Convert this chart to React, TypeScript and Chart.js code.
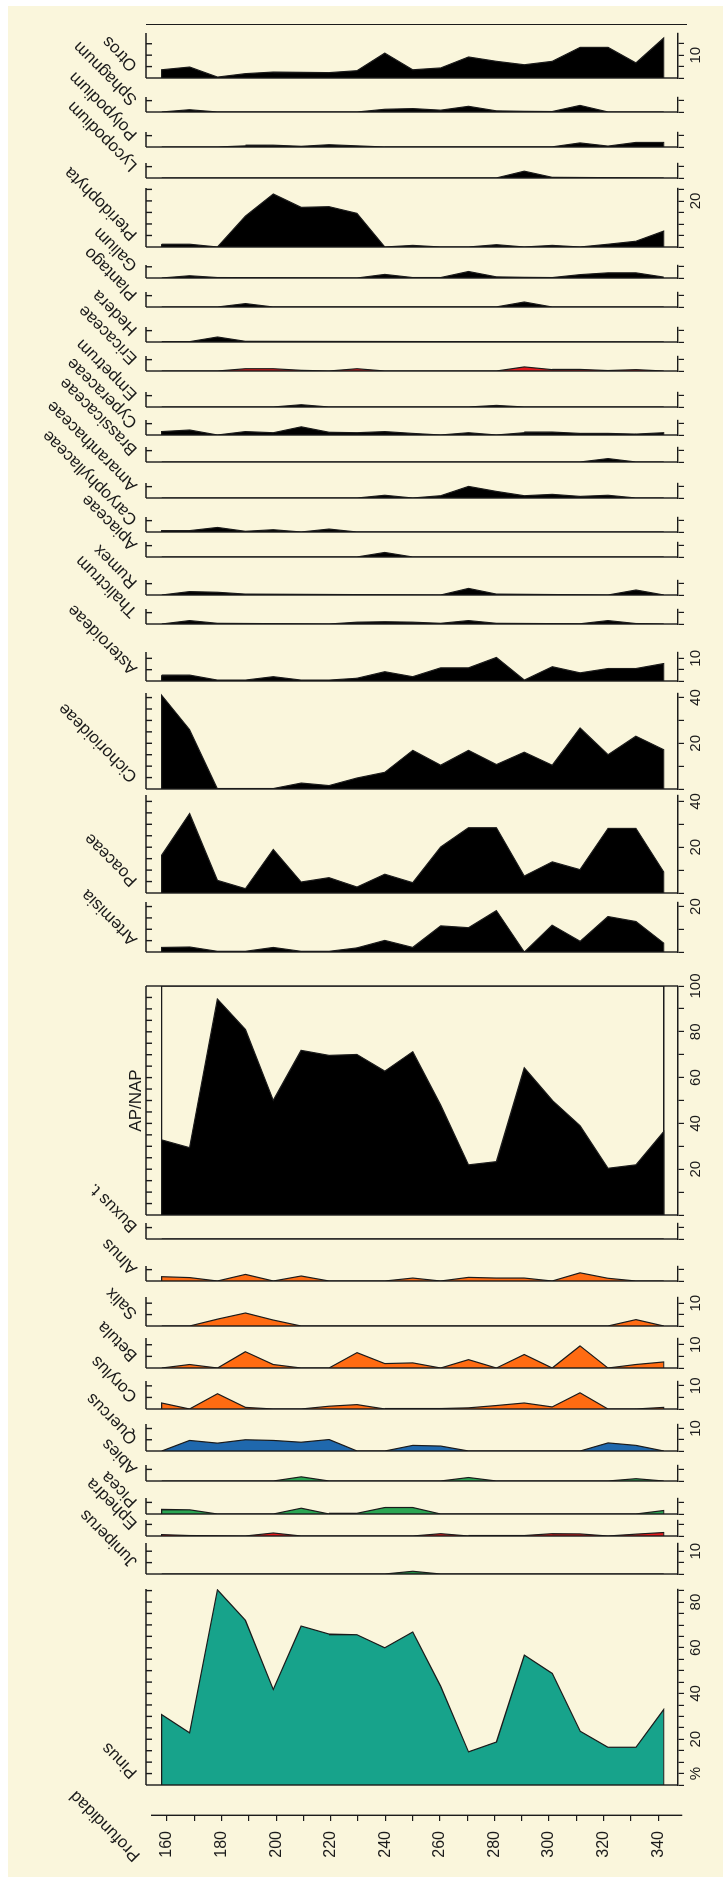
import React, { useEffect, useRef } from "react";
import { Chart, registerables } from "chart.js";

Chart.register(...registerables);

// ---------------- data (percent values per depth) ----------------
const DEPTHS = [160, 170, 180, 190, 200, 210, 220, 230, 240, 250, 260, 270, 280, 290, 300, 310, 320, 330, 340];
const DEPTH_TICKS = [160, 170, 180, 190, 200, 210, 220, 230, 240, 250, 260, 270, 280, 290, 300, 310, 320, 330, 340];
const DEPTH_LABELS = [160, 180, 200, 220, 240, 260, 280, 300, 320, 340];

const PINUS = [30.8, 22.8, 85.3, 72, 41.8, 69.5, 66, 65.7, 60, 66.9, 43.2, 14.5, 18.8, 56.8, 48.8, 23.5, 16.5, 16.5, 33];
const JUNIPERUS = [0, 0, 0, 0, 0, 0, 0, 0, 0, 1.2, 0, 0, 0, 0, 0, 0, 0, 0, 0];
const EPHEDRA = [0.6, 0.2, 0, 0, 1.3, 0, 0, 0, 0, 0, 1.0, 0, 0, 0.4, 1.0, 0.9, 0, 0.8, 1.5];
const PICEA = [2.0, 1.8, 0, 0, 0, 2.5, 0, 0.3, 2.8, 2.8, 0, 0, 0, 0, 0, 0, 0, 0, 1.5];
const ABIES = [0, 0, 0, 0, 0, 1.8, 0, 0, 0, 0, 0, 1.5, 0, 0, 0, 0, 0, 1.0, 0];
const QUERCUS = [0, 4.7, 3.5, 5, 4.7, 3.9, 5.1, 0, 0, 2.5, 2.2, 0, 0, 0, 0, 0, 3.6, 2.5, 0];
const CORYLUS = [2.6, 0, 6.6, 0.7, 0, 0, 1.2, 1.9, 0, 0.2, 0.2, 0.5, 1.5, 2.6, 0.9, 7.0, 0, 0, 0.7];
const BETULA = [0.3, 1.5, 0, 7.0, 1.5, 0, 0, 6.6, 1.9, 2.2, 0, 3.6, 0, 5.8, 0, 9.5, 0, 1.5, 2.6];
const SALIX = [0, 0, 3.0, 5.7, 2.6, 0, 0, 0, 0, 0, 0, 0, 0, 0, 0, 0, 0, 2.8, 0];
const ALNUS = [1.9, 1.5, 0, 2.9, 0, 2.2, 0, 0, 0, 1.3, 0, 1.6, 1.3, 1.3, 0, 3.6, 1.2, 0, 0];
const BUXUS = [0, 0, 0, 0, 0, 0, 0.4, 0, 0, 0, 0, 0, 0, 0, 0, 0, 0, 0, 0];
const AP_NAP = [32.8, 29.4, 94.3, 81, 50.1, 71.9, 69.7, 70.1, 62.8, 71.3, 48, 21.9, 23.3, 64.3, 50.1, 39, 20.4, 21.9, 36.4];
const ARTEMISIA = [2.0, 2.2, 0.3, 0.3, 2.0, 0.3, 0.3, 1.8, 5.1, 2.0, 11.5, 10.7, 18.2, 0, 11.8, 4.7, 15.6, 13.4, 3.9];
const POACEAE = [16.5, 34.7, 5.5, 1.9, 19, 4.8, 6.7, 2.6, 8.2, 4.5, 20.1, 28.5, 28.5, 7.4, 13.6, 10.2, 28.2, 28.2, 9.2];
const CICHORIOIDEAE = [41, 26, 0, 0, 0.4, 2.6, 1.5, 4.8, 7.3, 16.9, 10.4, 16.9, 10.7, 16.1, 10.4, 26.7, 15, 23.1, 17.2];
const ASTEROIDEAE = [2.3, 2.6, 0.4, 0.4, 1.9, 0.4, 0.4, 1.2, 4.1, 1.9, 5.8, 5.8, 10.4, 0.4, 6.3, 3.6, 5.5, 5.5, 7.7];
const THALICTRUM = [0.2, 1.5, 0.3, 0, 0, 0, 0, 0.8, 1.0, 0.8, 0.3, 1.5, 0.3, 0, 0, 0.3, 1.5, 0.2, 0];
const RUMEX = [0.3, 1.5, 1.2, 0.4, 0, 0, 0, 0, 0, 0, 0, 2.9, 0.4, 0, 0, 0, 0, 2.2, 0];
const APIACEAE = [0, 0, 0, 0, 0, 0, 0, 0, 2.0, 0, 0, 0, 0, 0, 0, 0, 0, 0, 0];
const CARYOPHYLLACEAE = [0.6, 0.6, 2.0, 0.3, 1.0, 0, 1.3, 0, 0, 0, 0, 0.2, 0, 0, 0, 0, 0, 0, 0];
const AMARANTHACEAE = [0, 0, 0, 0, 0, 0, 0, 0, 1.2, 0, 1.0, 5.1, 2.9, 1.0, 1.6, 0.7, 1.2, 0, 0];
const BRASSICACEAE = [0, 0, 0, 0, 0, 0, 0, 0, 0, 0, 0, 0, 0, 0, 0, 0, 1.5, 0, 0];
const CYPERACEAE = [1.5, 2.2, 0, 1.5, 1.0, 3.6, 1.2, 1.0, 1.5, 0.7, 0, 1.0, 0, 1.0, 1.3, 0.7, 0.7, 0.4, 1.0];
const EMPETRUM = [0, 0, 0, 0, 0, 1.0, 0, 0, 0, 0, 0, 0, 0.7, 0, 0, 0, 0, 0, 0];
const ERICACEAE = [0, 0, 0, 1.0, 1.0, 0.3, 0, 1.0, 0, 0, 0, 0, 0, 1.8, 0.6, 0.7, 0.2, 0.6, 0];
const HEDERA = [0, 0.3, 2.2, 0.3, 0, 0, 0, 0, 0, 0, 0, 0, 0.3, 0, 0, 0, 0.2, 0, 0];
const PLANTAGO = [0, 0, 0, 1.5, 0, 0, 0, 0, 0, 0, 0, 0, 0.3, 2.2, 0, 0, 0, 0, 0];
const GALIUM = [0.3, 1.0, 0.2, 0, 0, 0, 0, 0, 1.6, 0.2, 0.2, 2.9, 0.5, 0.3, 0.2, 1.5, 2.3, 2.3, 0.4];
const PTERIDOPHYTA = [1.0, 1.2, 0, 13.4, 23, 17.2, 17.5, 14.6, 0, 0.7, 0, 0, 1.0, 0, 0.7, 0, 1.2, 2.5, 6.9];
const LYCOPODIUM = [0, 0, 0, 0, 0, 0, 0, 0, 0, 0, 0, 0, 0.3, 3.0, 0.3, 0, 0, 0, 0];
const POLYPODIUM = [0, 0, 0, 0.5, 0.8, 0.3, 1.0, 0.5, 0, 0, 0, 0, 0, 0, 0.3, 1.8, 0.4, 2.0, 2.0];
const SPHAGNUM = [0, 1.0, 0, 0, 0, 0, 0, 0, 1.2, 1.5, 0.8, 2.5, 0.5, 0.3, 0.2, 2.9, 0, 0, 0];
const OTROS = [3.6, 4.8, 0.4, 1.9, 2.6, 2.2, 2.5, 3.2, 10.9, 3.6, 4.4, 9.2, 7.3, 5.8, 7.3, 13.4, 13.4, 6.6, 17.5];

// ---------------- styles ----------------
const FONT = "'Liberation Sans', Arial, Helvetica, sans-serif";
const INK = "#1b1b1b";
const BG = "#faf6dc";
const TEAL = "#17a38b";
const GREEN_D = "#1f8f45";
const GREEN = "#2aa653";
const RED = "#e3191c";
const BLUE = "#1f68ad";
const ORANGE = "#ff6b12";
const BLACK = "#000000";

// ---------------- layout (drawn in the unrotated orientation, then turned) ----------------
const W = 1877;
const H = 723;
const AXIS_TOP = 145.7;
const D_MIN = 154.37;
const D_MAX = 345.1;
const D_AXIS_END = 348.5;
const PX_PER_DEPTH = 2.788;
const PX_PER_PCT = 2.29;
const LABEL_Y = 138;

type Panel = {
  name: string;
  values: number[];
  left: number;
  max: number;
  color: string;
  step?: number;
  labels?: Record<number, string>;
  frame?: boolean;
  title?: boolean;
};

const L10 = { 10: "10" };
const PANELS: Panel[] = [
  { name: "Pinus", values: PINUS, left: 91.7, max: 85.7, color: TEAL, step: 5, labels: { 5: "%", 20: "20", 40: "40", 60: "60", 80: "80" } },
  { name: "Juniperus", values: JUNIPERUS, left: 302.7, max: 13.6, color: GREEN_D, labels: L10 },
  { name: "Ephedra", values: EPHEDRA, left: 341.3, max: 6.9, color: RED },
  { name: "Picea", values: PICEA, left: 363, max: 6.9, color: GREEN },
  { name: "Abies", values: ABIES, left: 396.3, max: 6.9, color: GREEN },
  { name: "Quercus", values: QUERCUS, left: 426.3, max: 12, color: BLUE, labels: L10 },
  { name: "Corylus", values: CORYLUS, left: 467.7, max: 12.1, color: ORANGE, labels: L10 },
  { name: "Betula", values: BETULA, left: 508.7, max: 12.9, color: ORANGE, labels: L10 },
  { name: "Salix", values: SALIX, left: 551.3, max: 12.7, color: ORANGE, labels: L10 },
  { name: "Alnus", values: ALNUS, left: 596, max: 6.6, color: ORANGE },
  { name: "Buxus t.", values: BUXUS, left: 637.7, max: 7, color: ORANGE },
  { name: "AP/NAP", values: AP_NAP, left: 662, max: 100, color: BLACK, step: 10, labels: { 20: "20", 40: "40", 60: "60", 80: "80", 100: "100" }, frame: true, title: true },
  { name: "Artemisia", values: ARTEMISIA, left: 924.7, max: 22, color: BLACK, step: 10, labels: { 20: "20" } },
  { name: "Poaceae", values: POACEAE, left: 984.3, max: 42.8, color: BLACK, step: 10, labels: { 20: "20", 40: "40" } },
  { name: "Cichorioideae", values: CICHORIOIDEAE, left: 1087.7, max: 42, color: BLACK, step: 10, labels: { 20: "20", 40: "40" } },
  { name: "Asteroideae", values: ASTEROIDEAE, left: 1196, max: 12.8, color: BLACK, labels: L10 },
  { name: "Thalictrum", values: THALICTRUM, left: 1253, max: 6.6, color: BLACK },
  { name: "Rumex", values: RUMEX, left: 1282, max: 6.6, color: BLACK },
  { name: "Apiaceae", values: APIACEAE, left: 1319.7, max: 6.6, color: BLACK },
  { name: "Caryophyllaceae", values: CARYOPHYLLACEAE, left: 1344.7, max: 6.6, color: BLACK },
  { name: "Amaranthaceae", values: AMARANTHACEAE, left: 1378.7, max: 6.6, color: BLACK },
  { name: "Brassicaceae", values: BRASSICACEAE, left: 1415.3, max: 6.6, color: BLACK },
  { name: "Cyperaceae", values: CYPERACEAE, left: 1442, max: 6.6, color: BLACK },
  { name: "Empetrum", values: EMPETRUM, left: 1470.3, max: 6.6, color: BLACK },
  { name: "Ericaceae", values: ERICACEAE, left: 1506, max: 6.6, color: RED },
  { name: "Hedera", values: HEDERA, left: 1534.7, max: 6.6, color: BLACK },
  { name: "Plantago", values: PLANTAGO, left: 1570.3, max: 6.6, color: BLACK },
  { name: "Galium", values: GALIUM, left: 1599.3, max: 5.8, color: BLACK },
  { name: "Pteridophyta", values: PTERIDOPHYTA, left: 1630.3, max: 25.6, color: BLACK, labels: { 20: "20" } },
  { name: "Lycopodium", values: LYCOPODIUM, left: 1699.3, max: 6.6, color: BLACK },
  { name: "Polypodium", values: POLYPODIUM, left: 1730.3, max: 6.6, color: BLACK },
  { name: "Sphagnum", values: SPHAGNUM, left: 1765.3, max: 6.6, color: BLACK },
  { name: "Otros", values: OTROS, left: 1798.7, max: 19.7, color: BLACK, labels: L10 },
];

function stepsUpTo(max: number, step: number) {
  const out: number[] = [];
  for (let v = 0; v <= max + 1e-6; v += step) out.push(v);
  return out;
}

function framePlugin(p: Panel) {
  return {
    id: "frame",
    afterDatasetsDraw(chart: any) {
      const { ctx, chartArea: a, scales } = chart;
      const x = scales.x;
      const x0 = x.getPixelForValue(0);
      const x1 = x.getPixelForValue(p.max);
      ctx.save();
      ctx.strokeStyle = INK;
      ctx.lineWidth = 1.4;
      ctx.beginPath();
      ctx.moveTo(x0, a.top);
      ctx.lineTo(x0, a.bottom);
      ctx.moveTo(x0, a.top);
      ctx.lineTo(x1, a.top);
      for (let v = 5; v <= p.max + 1e-6; v += 5) {
        const px = x.getPixelForValue(v);
        ctx.moveTo(px, a.top);
        ctx.lineTo(px, a.top + 6);
      }
      if (p.frame) {
        ctx.moveTo(x1, a.top);
        ctx.lineTo(x1, a.bottom);
      }
      ctx.stroke();
      ctx.restore();
    },
  };
}

const PADL = 24;
const PADR = 24;
const PADT = 12;
const AXH = 36;

function PanelChart({ p }: { p: Panel }) {
  const ref = useRef<HTMLCanvasElement | null>(null);
  const areaW = p.max * PX_PER_PCT;
  const areaH = (D_MAX - D_MIN) * PX_PER_DEPTH;
  const cw = Math.round(areaW + PADL + PADR);
  const ch = Math.round(areaH + PADT + AXH);
  useEffect(() => {
    if (!ref.current) return;
    const last = DEPTHS.length - 1;
    const data = [
      { x: 0, y: DEPTHS[0] },
      ...DEPTHS.map((d, i) => ({ x: p.values[i], y: d })),
      { x: 0, y: DEPTHS[last] },
    ];
    const datasets: any[] = [
      {
        data,
        fill: "origin",
        backgroundColor: p.color,
        borderColor: INK,
        borderWidth: 1.2,
        pointRadius: 0,
        tension: 0,
      },
    ];
    if (p.frame) {
      datasets.push({
        data: [
          { x: 0, y: DEPTHS[0] },
          { x: p.max, y: DEPTHS[0] },
          { x: p.max, y: DEPTHS[last] },
          { x: 0, y: DEPTHS[last] },
        ],
        fill: false,
        borderColor: INK,
        borderWidth: 1.3,
        pointRadius: 0,
      });
    }
    const step = p.step ?? 5;
    const labels = p.labels ?? {};
    const chart = new Chart(ref.current, {
      type: "line",
      data: { datasets },
      options: {
        animation: false,
        responsive: false,
        devicePixelRatio: 1,
        indexAxis: "y",
        events: [],
        layout: { padding: { left: PADL, right: PADR, top: PADT, bottom: 0 } },
        plugins: { legend: { display: false }, tooltip: { enabled: false } },
        scales: {
          x: {
            type: "linear",
            position: "bottom",
            min: 0,
            max: p.max,
            afterBuildTicks: (s: any) => {
              s.ticks = stepsUpTo(p.max, step).map((v) => ({ value: v }));
            },
            afterFit: (s: any) => {
              s.height = AXH;
            },
            grid: { drawOnChartArea: false, drawTicks: true, tickLength: 6, color: INK, lineWidth: 1.2 },
            border: { display: true, color: INK, width: 1.4 },
            ticks: {
              autoSkip: false,
              maxRotation: 0,
              minRotation: 0,
              padding: 3,
              color: INK,
              font: { family: FONT, size: 15 },
              callback: (v: any) => (labels as any)[Math.round(Number(v) * 100) / 100] ?? "",
            },
          },
          y: { type: "linear", reverse: true, min: D_MIN, max: D_MAX, display: false },
        },
      } as any,
      plugins: [framePlugin(p)],
    });
    return () => chart.destroy();
  }, []);
  return (
    <canvas
      ref={ref}
      width={cw}
      height={ch}
      style={{ position: "absolute", left: p.left - PADL, top: AXIS_TOP - PADT, width: cw, height: ch }}
    />
  );
}

function DepthAxis() {
  const ref = useRef<HTMLCanvasElement | null>(null);
  const AXIS_X = 62;
  const PT = 14;
  const PB = 14;
  const areaH = (D_AXIS_END - D_MIN) * PX_PER_DEPTH;
  const cw = AXIS_X + 6;
  const ch = Math.round(areaH + PT + PB);
  useEffect(() => {
    if (!ref.current) return;
    const chart = new Chart(ref.current, {
      type: "line",
      data: { datasets: [] },
      options: {
        animation: false,
        responsive: false,
        devicePixelRatio: 1,
        events: [],
        layout: { padding: { top: PT, bottom: PB, left: 0, right: 0 } },
        plugins: { legend: { display: false }, tooltip: { enabled: false } },
        scales: {
          x: { type: "linear", display: false, min: 0, max: 1 },
          y: {
            type: "linear",
            position: "left",
            reverse: true,
            min: D_MIN,
            max: D_AXIS_END,
            afterBuildTicks: (s: any) => {
              s.ticks = DEPTH_TICKS.map((v) => ({ value: v }));
            },
            afterFit: (s: any) => {
              s.width = AXIS_X;
            },
            grid: { drawOnChartArea: false, drawTicks: true, tickLength: 6, color: INK, lineWidth: 1.2 },
            border: { display: true, color: INK, width: 1.4 },
            ticks: {
              autoSkip: false,
              padding: 10,
              color: INK,
              font: { family: FONT, size: 16 },
              callback: (v: any) => (DEPTH_LABELS.includes(Number(v)) ? String(v) : ""),
            },
          },
        },
      } as any,
    });
    return () => chart.destroy();
  }, []);
  return (
    <canvas
      ref={ref}
      width={cw}
      height={ch}
      style={{ position: "absolute", left: 0, top: AXIS_TOP - PT, width: cw, height: ch }}
    />
  );
}

function SlantLabel({ text, x, y, size }: { text: string; x: number; y: number; size: number }) {
  return (
    <div
      style={{
        position: "absolute",
        left: x,
        top: y,
        width: 0,
        height: 0,
        transform: "rotate(-45deg)",
        transformOrigin: "0 0",
      }}
    >
      <span
        style={{
          position: "absolute",
          left: 0,
          bottom: -0.15 * size,
          fontFamily: FONT,
          fontSize: size,
          lineHeight: 1,
          whiteSpace: "nowrap",
          color: INK,
        }}
      >
        {text}
      </span>
    </div>
  );
}

export default function App() {
  const LABEL_SIZE = 17;
  return (
    <div style={{ position: "fixed", left: 0, top: 0, width: H, height: W, background: "#ffffff", overflow: "hidden" }}>
      <div style={{ position: "absolute", left: 8, top: 6, right: 0, bottom: 0, background: BG }} />
      <div
        style={{
          position: "absolute",
          left: 0,
          top: 0,
          width: W,
          height: H,
          transformOrigin: "0 0",
          transform: `translateY(${W}px) rotate(-90deg)`,
        }}
      >
        <DepthAxis />
        {PANELS.map((p) => (
          <PanelChart key={p.name} p={p} />
        ))}
        {PANELS.filter((p) => !p.title).map((p) => (
          <SlantLabel key={"l" + p.name} text={p.name} x={p.left + 13} y={LABEL_Y} size={LABEL_SIZE} />
        ))}
        {PANELS.filter((p) => p.title).map((p) => (
          <div
            key={"t" + p.name}
            style={{
              position: "absolute",
              left: p.left,
              width: p.max * PX_PER_PCT,
              top: 141 - LABEL_SIZE * 0.85,
              textAlign: "center",
              fontFamily: FONT,
              fontSize: LABEL_SIZE,
              lineHeight: 1,
              color: INK,
            }}
          >
            {p.name}
          </div>
        ))}
        <SlantLabel text="Profundidad" x={22} y={141} size={LABEL_SIZE} />
        <div
          style={{
            position: "absolute",
            left: 1852,
            top: AXIS_TOP,
            width: 1.4,
            height: (D_AXIS_END - D_MIN) * PX_PER_DEPTH,
            background: INK,
          }}
        />
      </div>
    </div>
  );
}
